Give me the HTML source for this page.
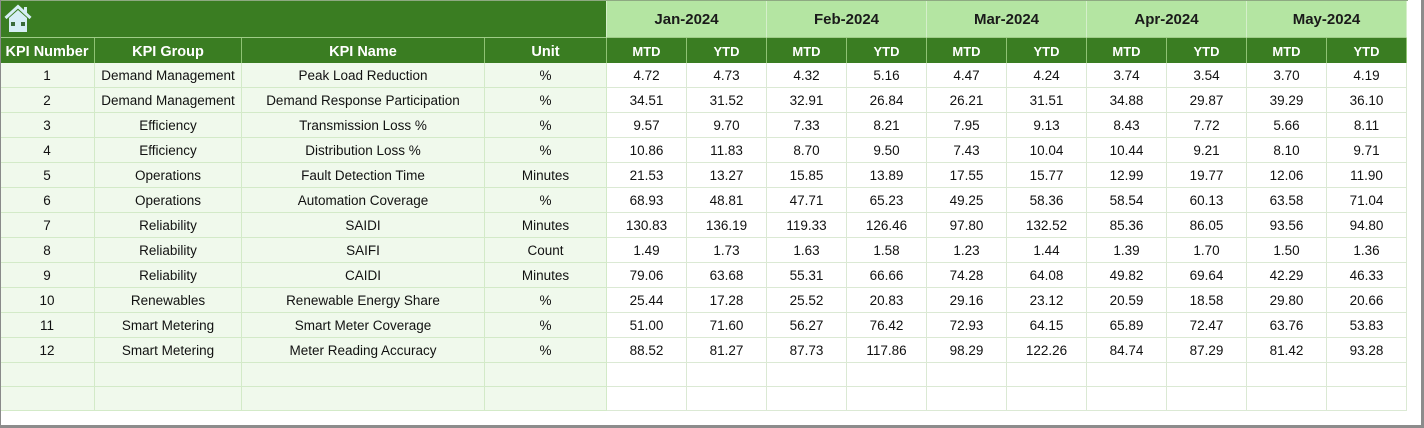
<!DOCTYPE html>
<html><head><meta charset="utf-8">
<style>
html,body{margin:0;padding:0;background:#fff;}
body{width:1424px;height:428px;position:relative;overflow:hidden;font-family:"Liberation Sans",Arial,sans-serif;}
.r{position:absolute;left:0;display:flex;}
.c{box-sizing:border-box;display:flex;align-items:center;justify-content:center;white-space:nowrap;overflow:hidden;}
.d .c{height:25px;border-right:1px solid #d3eac8;border-bottom:1px solid #d3eac8;font-size:13.5px;color:#111;padding-top:1px;}
.d .l{background:#f0f9ec;}
.d .m{background:#fff;border-right:1px solid #dbe9d4;border-bottom:1px solid #dbe9d4;}
.e .c{height:24px;}
.h .c{height:26px;background:#3a7d22;color:#fff;font-weight:bold;border-right:1px solid #8fc374;border-bottom:1px solid #a9d38f;padding-top:2px;}
.h .k{font-size:14.5px;}
.h .s{font-size:13px;}
.t .c{height:37px;border-right:1px solid #d5efca;border-bottom:1px solid #9fcc88;padding-top:1px;}
.w1{width:95px}.w2{width:147px}.w3{width:243px}.w4{width:122px}.wm{width:80px}
</style></head><body>

<!-- top band -->
<div class="r t" style="top:1px;">
  <div class="c" style="width:607px;background:#3a7d22;"></div>
  <div class="c" style="width:160px;background:#b4e5a2;font-weight:bold;font-size:15px;color:#1a1a1a;">Jan-2024</div>
  <div class="c" style="width:160px;background:#b4e5a2;font-weight:bold;font-size:15px;color:#1a1a1a;">Feb-2024</div>
  <div class="c" style="width:160px;background:#b4e5a2;font-weight:bold;font-size:15px;color:#1a1a1a;">Mar-2024</div>
  <div class="c" style="width:160px;background:#b4e5a2;font-weight:bold;font-size:15px;color:#1a1a1a;">Apr-2024</div>
  <div class="c" style="width:160px;background:#b4e5a2;font-weight:bold;font-size:15px;color:#1a1a1a;">May-2024</div>
</div>
<svg style="position:absolute;left:3px;top:3px;" width="30" height="30" viewBox="0 0 30 30">
  <polyline points="2.5,15 15,3.5 27.5,15" fill="none" stroke="#d6eef5" stroke-width="3" stroke-linejoin="miter"/>
  <rect x="21" y="4" width="3" height="7" fill="#d6eef5"/>
  <polygon points="6,15 15,7 24,15 24,29 6,29" fill="#d6eef5"/>
  <rect x="8" y="19" width="4" height="4" fill="#3a6b3a"/>
  <rect x="18" y="19" width="4" height="4" fill="#3a6b3a"/>
</svg>

<!-- header -->
<div class="r h" style="top:38px;">
  <div class="c w1 k">KPI Number</div>
  <div class="c w2 k">KPI Group</div>
  <div class="c w3 k">KPI Name</div>
  <div class="c w4 k">Unit</div>
  <div class="c wm s">MTD</div><div class="c wm s">YTD</div>
  <div class="c wm s">MTD</div><div class="c wm s">YTD</div>
  <div class="c wm s">MTD</div><div class="c wm s">YTD</div>
  <div class="c wm s">MTD</div><div class="c wm s">YTD</div>
  <div class="c wm s">MTD</div><div class="c wm s">YTD</div>
</div>

<div class="r d" style="top:63px;"><div class="c l w1">1</div><div class="c l w2">Demand Management</div><div class="c l w3">Peak Load Reduction</div><div class="c l w4">%</div><div class="c m wm">4.72</div><div class="c m wm">4.73</div><div class="c m wm">4.32</div><div class="c m wm">5.16</div><div class="c m wm">4.47</div><div class="c m wm">4.24</div><div class="c m wm">3.74</div><div class="c m wm">3.54</div><div class="c m wm">3.70</div><div class="c m wm">4.19</div></div>
<div class="r d" style="top:88px;"><div class="c l w1">2</div><div class="c l w2">Demand Management</div><div class="c l w3">Demand Response Participation</div><div class="c l w4">%</div><div class="c m wm">34.51</div><div class="c m wm">31.52</div><div class="c m wm">32.91</div><div class="c m wm">26.84</div><div class="c m wm">26.21</div><div class="c m wm">31.51</div><div class="c m wm">34.88</div><div class="c m wm">29.87</div><div class="c m wm">39.29</div><div class="c m wm">36.10</div></div>
<div class="r d" style="top:113px;"><div class="c l w1">3</div><div class="c l w2">Efficiency</div><div class="c l w3">Transmission Loss %</div><div class="c l w4">%</div><div class="c m wm">9.57</div><div class="c m wm">9.70</div><div class="c m wm">7.33</div><div class="c m wm">8.21</div><div class="c m wm">7.95</div><div class="c m wm">9.13</div><div class="c m wm">8.43</div><div class="c m wm">7.72</div><div class="c m wm">5.66</div><div class="c m wm">8.11</div></div>
<div class="r d" style="top:138px;"><div class="c l w1">4</div><div class="c l w2">Efficiency</div><div class="c l w3">Distribution Loss %</div><div class="c l w4">%</div><div class="c m wm">10.86</div><div class="c m wm">11.83</div><div class="c m wm">8.70</div><div class="c m wm">9.50</div><div class="c m wm">7.43</div><div class="c m wm">10.04</div><div class="c m wm">10.44</div><div class="c m wm">9.21</div><div class="c m wm">8.10</div><div class="c m wm">9.71</div></div>
<div class="r d" style="top:163px;"><div class="c l w1">5</div><div class="c l w2">Operations</div><div class="c l w3">Fault Detection Time</div><div class="c l w4">Minutes</div><div class="c m wm">21.53</div><div class="c m wm">13.27</div><div class="c m wm">15.85</div><div class="c m wm">13.89</div><div class="c m wm">17.55</div><div class="c m wm">15.77</div><div class="c m wm">12.99</div><div class="c m wm">19.77</div><div class="c m wm">12.06</div><div class="c m wm">11.90</div></div>
<div class="r d" style="top:188px;"><div class="c l w1">6</div><div class="c l w2">Operations</div><div class="c l w3">Automation Coverage</div><div class="c l w4">%</div><div class="c m wm">68.93</div><div class="c m wm">48.81</div><div class="c m wm">47.71</div><div class="c m wm">65.23</div><div class="c m wm">49.25</div><div class="c m wm">58.36</div><div class="c m wm">58.54</div><div class="c m wm">60.13</div><div class="c m wm">63.58</div><div class="c m wm">71.04</div></div>
<div class="r d" style="top:213px;"><div class="c l w1">7</div><div class="c l w2">Reliability</div><div class="c l w3">SAIDI</div><div class="c l w4">Minutes</div><div class="c m wm">130.83</div><div class="c m wm">136.19</div><div class="c m wm">119.33</div><div class="c m wm">126.46</div><div class="c m wm">97.80</div><div class="c m wm">132.52</div><div class="c m wm">85.36</div><div class="c m wm">86.05</div><div class="c m wm">93.56</div><div class="c m wm">94.80</div></div>
<div class="r d" style="top:238px;"><div class="c l w1">8</div><div class="c l w2">Reliability</div><div class="c l w3">SAIFI</div><div class="c l w4">Count</div><div class="c m wm">1.49</div><div class="c m wm">1.73</div><div class="c m wm">1.63</div><div class="c m wm">1.58</div><div class="c m wm">1.23</div><div class="c m wm">1.44</div><div class="c m wm">1.39</div><div class="c m wm">1.70</div><div class="c m wm">1.50</div><div class="c m wm">1.36</div></div>
<div class="r d" style="top:263px;"><div class="c l w1">9</div><div class="c l w2">Reliability</div><div class="c l w3">CAIDI</div><div class="c l w4">Minutes</div><div class="c m wm">79.06</div><div class="c m wm">63.68</div><div class="c m wm">55.31</div><div class="c m wm">66.66</div><div class="c m wm">74.28</div><div class="c m wm">64.08</div><div class="c m wm">49.82</div><div class="c m wm">69.64</div><div class="c m wm">42.29</div><div class="c m wm">46.33</div></div>
<div class="r d" style="top:288px;"><div class="c l w1">10</div><div class="c l w2">Renewables</div><div class="c l w3">Renewable Energy Share</div><div class="c l w4">%</div><div class="c m wm">25.44</div><div class="c m wm">17.28</div><div class="c m wm">25.52</div><div class="c m wm">20.83</div><div class="c m wm">29.16</div><div class="c m wm">23.12</div><div class="c m wm">20.59</div><div class="c m wm">18.58</div><div class="c m wm">29.80</div><div class="c m wm">20.66</div></div>
<div class="r d" style="top:313px;"><div class="c l w1">11</div><div class="c l w2">Smart Metering</div><div class="c l w3">Smart Meter Coverage</div><div class="c l w4">%</div><div class="c m wm">51.00</div><div class="c m wm">71.60</div><div class="c m wm">56.27</div><div class="c m wm">76.42</div><div class="c m wm">72.93</div><div class="c m wm">64.15</div><div class="c m wm">65.89</div><div class="c m wm">72.47</div><div class="c m wm">63.76</div><div class="c m wm">53.83</div></div>
<div class="r d" style="top:338px;"><div class="c l w1">12</div><div class="c l w2">Smart Metering</div><div class="c l w3">Meter Reading Accuracy</div><div class="c l w4">%</div><div class="c m wm">88.52</div><div class="c m wm">81.27</div><div class="c m wm">87.73</div><div class="c m wm">117.86</div><div class="c m wm">98.29</div><div class="c m wm">122.26</div><div class="c m wm">84.74</div><div class="c m wm">87.29</div><div class="c m wm">81.42</div><div class="c m wm">93.28</div></div>
<div class="r d e" style="top:363px;"><div class="c l w1"></div><div class="c l w2"></div><div class="c l w3"></div><div class="c l w4"></div><div class="c m wm"></div><div class="c m wm"></div><div class="c m wm"></div><div class="c m wm"></div><div class="c m wm"></div><div class="c m wm"></div><div class="c m wm"></div><div class="c m wm"></div><div class="c m wm"></div><div class="c m wm"></div></div>
<div class="r d e" style="top:387px;"><div class="c l w1"></div><div class="c l w2"></div><div class="c l w3"></div><div class="c l w4"></div><div class="c m wm"></div><div class="c m wm"></div><div class="c m wm"></div><div class="c m wm"></div><div class="c m wm"></div><div class="c m wm"></div><div class="c m wm"></div><div class="c m wm"></div><div class="c m wm"></div><div class="c m wm"></div></div>

<!-- frame lines -->
<div style="position:absolute;left:0;top:0;width:1408px;height:1px;background:#8ea982;"></div>
<div style="position:absolute;left:0;top:0;width:1px;height:428px;background:#8a8a8a;"></div>
<div style="position:absolute;left:1421px;top:0;width:3px;height:428px;background:#8c8c8c;"></div>
<div style="position:absolute;left:0;top:425px;width:1424px;height:3px;background:#8c8c8c;"></div>
</body></html>
